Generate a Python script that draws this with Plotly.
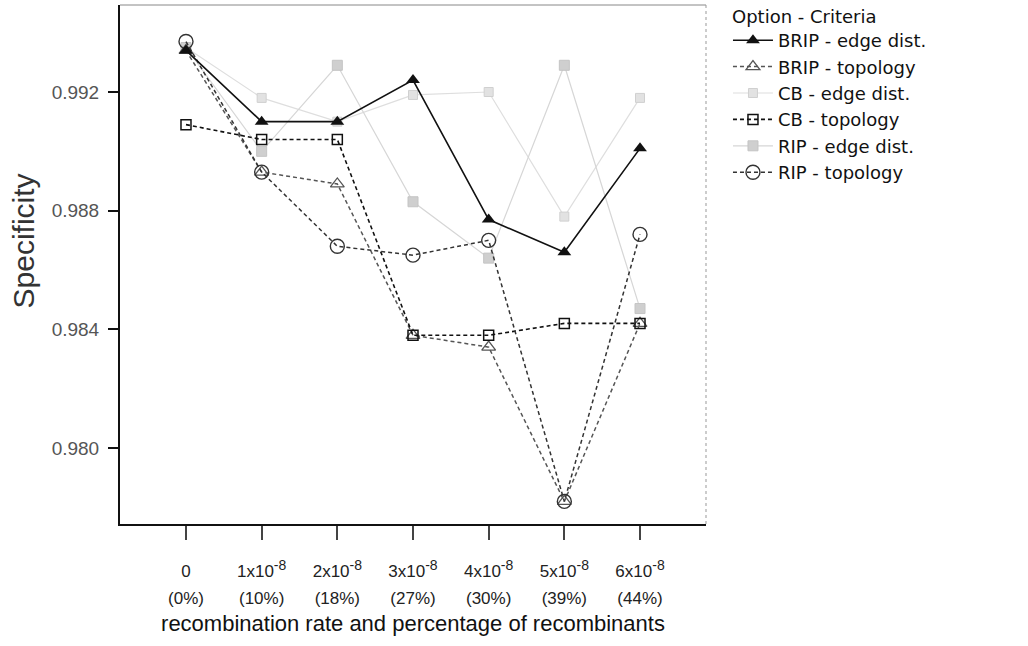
import plotly.graph_objects as go

x_idx = [0, 1, 2, 3, 4, 5, 6]
SUP = "<sup><span style='font-size:14px'>-8</span></sup>"
rate_labels = ["0"] + [f"{k}x10{SUP}" for k in range(1, 7)]
pct_labels = ["(0%)", "(10%)", "(18%)", "(27%)", "(30%)", "(39%)", "(44%)"]
y_ticks = [0.980, 0.984, 0.988, 0.992]

brip_edge = [0.9934, 0.9910, 0.9910, 0.9924, 0.9877, 0.9866, 0.9901]
brip_topo = [0.9934, 0.9893, 0.9889, 0.9838, 0.9834, 0.9782, 0.9842]
cb_edge = [0.9935, 0.9918, 0.9910, 0.9919, 0.9920, 0.9878, 0.9918]
cb_topo = [0.9909, 0.9904, 0.9904, 0.9838, 0.9838, 0.9842, 0.9842]
rip_edge = [0.9935, 0.9900, 0.9929, 0.9883, 0.9864, 0.9929, 0.9847]
rip_topo = [0.9937, 0.9893, 0.9868, 0.9865, 0.9870, 0.9782, 0.9872]

FONT = "Arial, Liberation Sans, sans-serif"
LEGEND_FONT = "DejaVu Sans, Arial, sans-serif"

fig = go.Figure()

# light grey series first
fig.add_trace(go.Scatter(
    x=x_idx, y=cb_edge, mode="lines+markers", name="CB - edge dist.",
    line=dict(color="#dedede", width=1.2),
    marker=dict(symbol="square", size=9, color="#e2e2e2", line=dict(color="#d0d0d0", width=1)),
    legendrank=3,
))
fig.add_trace(go.Scatter(
    x=x_idx, y=rip_edge, mode="lines+markers", name="RIP - edge dist.",
    line=dict(color="#d6d6d6", width=1.2),
    marker=dict(symbol="square", size=10, color="#cfcfcf", line=dict(color="#c4c4c4", width=1)),
    legendrank=5,
))
# dark series
fig.add_trace(go.Scatter(
    x=x_idx, y=brip_topo, mode="lines+markers", name="BRIP - topology",
    line=dict(color="#555555", width=1.5, dash="4px,3px"),
    marker=dict(symbol="triangle-up-open", size=12, color="#555555", line=dict(width=1.3)),
    legendrank=2,
))
fig.add_trace(go.Scatter(
    x=x_idx, y=cb_topo, mode="lines+markers", name="CB - topology",
    line=dict(color="#111111", width=1.6, dash="4px,3px"),
    marker=dict(symbol="square-open", size=10, color="#111111", line=dict(width=1.5)),
    legendrank=4,
))
fig.add_trace(go.Scatter(
    x=x_idx, y=rip_topo, mode="lines+markers", name="RIP - topology",
    line=dict(color="#333333", width=1.5, dash="4px,3px"),
    marker=dict(symbol="circle-open", size=14, color="#333333", line=dict(width=1.4)),
    legendrank=6,
))
fig.add_trace(go.Scatter(
    x=x_idx, y=brip_edge, mode="lines+markers", name="BRIP - edge dist.",
    line=dict(color="#111111", width=1.6),
    marker=dict(symbol="triangle-up", size=12, color="#111111"),
    legendrank=1,
))
# invisible helper trace so the percentage label axis is drawn
fig.add_trace(go.Scatter(
    x=x_idx, y=brip_edge, xaxis="x2", mode="markers", marker=dict(opacity=0),
    showlegend=False, hoverinfo="skip",
))

X_RANGE = [-0.872, 6.872]

fig.update_layout(
    width=1028, height=646,
    margin=dict(l=120, r=322, t=5, b=122),
    paper_bgcolor="white", plot_bgcolor="white",
    font=dict(family=FONT, color="#111111"),
    showlegend=True,
    legend=dict(
        x=1.0375, xanchor="left", y=0.9672, yanchor="top",
        font=dict(size=18, family=LEGEND_FONT, color="#111"),
        itemwidth=40, tracegroupgap=0, bgcolor="rgba(0,0,0,0)",
    ),
    annotations=[
        dict(text="Option - Criteria", xref="paper", yref="paper",
             x=1.041, y=0.9769, xanchor="left", yanchor="middle", showarrow=False,
             font=dict(size=18, family=LEGEND_FONT, color="#111")),
        dict(text="Specificity", xref="paper", yref="paper", textangle=-90,
             x=-0.163, y=0.5453, xanchor="center", yanchor="middle", showarrow=False,
             font=dict(size=30, family=FONT, color="#333")),
    ],
    xaxis=dict(
        range=X_RANGE, tickmode="array", tickvals=x_idx, ticktext=rate_labels,
        showgrid=False, zeroline=False, showline=True, linecolor="#111", linewidth=2,
        ticks="outside", ticklen=14, tickwidth=2, tickcolor="#444",
        ticklabelstandoff=17,
        tickfont=dict(size=17, family=FONT, color="#222"),
        title=dict(text="recombination rate and percentage of recombinants",
                   font=dict(size=22, family=FONT, color="#111"), standoff=35),
    ),
    xaxis2=dict(
        range=X_RANGE, overlaying="x", anchor="y", side="bottom",
        tickmode="array", tickvals=x_idx, ticktext=pct_labels,
        showgrid=False, zeroline=False, showline=False, ticks="",
        ticklabelstandoff=62,
        tickfont=dict(size=17, family=FONT, color="#222"),
    ),
    yaxis=dict(
        range=[0.977439, 0.994932], tickmode="array", tickvals=y_ticks,
        ticktext=[f"{v:.3f}" for v in y_ticks],
        showgrid=False, zeroline=False, showline=True, linecolor="#111", linewidth=2,
        ticks="outside", ticklen=10, tickwidth=2, tickcolor="#111",
        ticklabelstandoff=5,
        tickfont=dict(size=19, family=FONT, color="#555"),
    ),
    shapes=[
        dict(type="line", xref="paper", yref="paper", x0=0, x1=1, y0=1, y1=1,
             line=dict(color="#888888", width=1)),
        dict(type="line", xref="paper", yref="paper", x0=1, x1=1, y0=0, y1=1,
             line=dict(color="#999999", width=1, dash="dot")),
    ],
)

fig.write_html(
    "out.html",
    config={"displayModeBar": False},
    post_script="document.body.style.margin='0';document.body.style.overflow='hidden';",
)
